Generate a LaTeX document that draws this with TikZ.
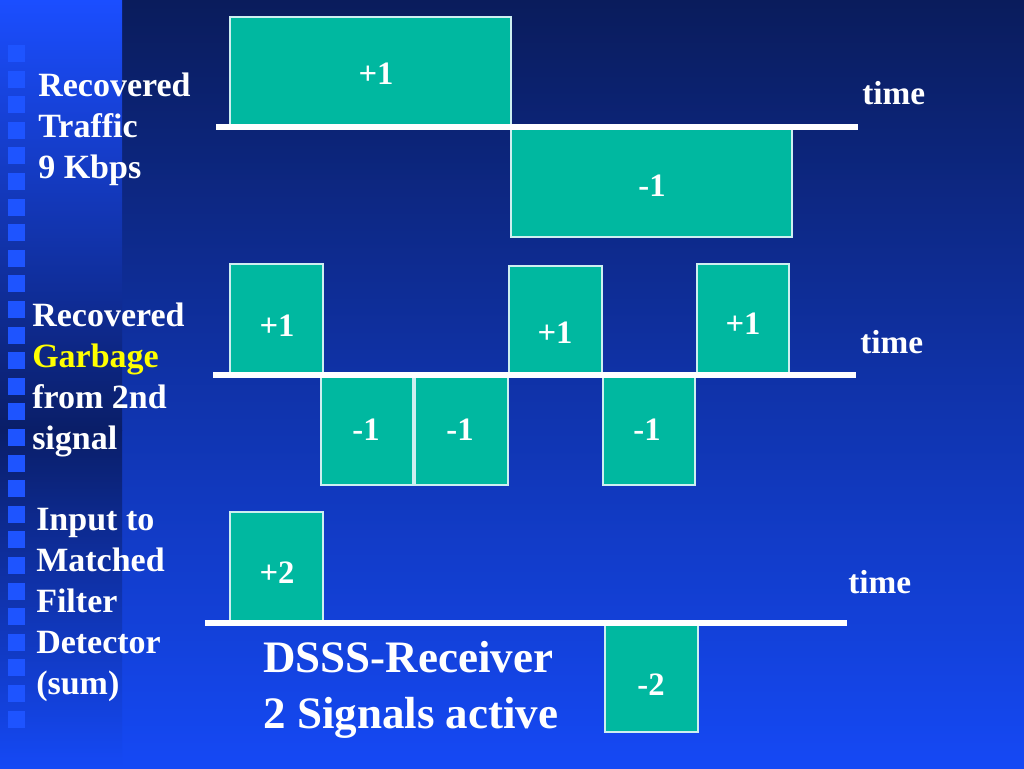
\documentclass[tikz,border=0pt]{standalone}
\usepackage{fontspec}
\setmainfont{Liberation Serif}

\definecolor{slidetop}{HTML}{0A1C5C}
\definecolor{slidemid}{HTML}{1036B8}
\definecolor{slidebot}{HTML}{1549F5}
\definecolor{stripetop}{HTML}{1B4EFF}
\definecolor{stripedark}{HTML}{0A1E68}
\definecolor{bullet}{HTML}{1E54FF}
\definecolor{chipfill}{HTML}{00B8A0}
\definecolor{chipline}{HTML}{CDEFF0}
\definecolor{hilite}{HTML}{FFFF00}

\tikzset{
  chip/.style={fill=chipfill, draw=chipline, line width=1.1pt},
  axis/.style={draw=white, line width=3.8pt},
  val/.style={text=white, inner sep=0pt, font=\bfseries\fontsize{24.5}{28}\selectfont},
  side/.style={text=white, inner sep=0pt, anchor=north west, align=left,
    font=\bfseries\fontsize{25.5}{30.75}\selectfont},
  timelabel/.style={text=white, inner sep=0pt, anchor=west,
    font=\bfseries\fontsize{25}{30}\selectfont},
  headline/.style={text=white, inner sep=0pt, anchor=north west, align=left,
    font=\bfseries\fontsize{33.75}{42}\selectfont}
}

\begin{document}
\begin{tikzpicture}[x=0.75pt,y=-0.75pt]
\useasboundingbox (0,0) rectangle (1024,768);
% background
\shade[top color=slidetop, middle color=slidemid, bottom color=slidebot] (0,0) rectangle (1024,768);
\shade[top color=stripetop, bottom color=stripedark] (0,0) rectangle (122,430);
\shade[top color=stripedark, bottom color=slidebot] (0,430) rectangle (122,768);
\foreach \k in {0,...,26}
  \fill[bullet] (8,{45+25.6*\k}) rectangle ++(17,17);

% recovered traffic
\draw[chip] (230,17) rectangle (511,127);
\draw[chip] (511,128) rectangle (792,237);
\draw[axis] (216,127) -- (858,127);
\node[val] (t1) at (376,74) {+1};
\node[val] (t2) at (652,186) {-1};
\node[timelabel] (time1) at (862,93) {time};
\node[side] (lab1) at (38,73) {Recovered\\Traffic\\9 Kbps};

% recovered garbage
\draw[chip] (230,264) rectangle (323,375);
\draw[chip] (321,376) rectangle (413,485);
\draw[chip] (415,376) rectangle (508,485);
\draw[chip] (509,266) rectangle (602,375);
\draw[chip] (603,376) rectangle (695,485);
\draw[chip] (697,264) rectangle (789,375);
\draw[axis] (213,375) -- (856,375);
\node[val] (g1) at (277,326) {+1};
\node[val] (g2) at (366,430) {-1};
\node[val] (g3) at (460,430) {-1};
\node[val] (g4) at (555,333) {+1};
\node[val] (g5) at (647,430) {-1};
\node[val] (g6) at (743,324) {+1};
\node[timelabel] (time2) at (860,342) {time};
\node[side] (lab2) at (32,303) {Recovered\\\textcolor{hilite}{Garbage}\\from 2nd\\signal};

% sum
\draw[chip] (230,512) rectangle (323,621);
\draw[chip] (605,624) rectangle (698,732);
\draw[axis] (205,623) -- (847,623);
\node[val] (s1) at (277,573) {+2};
\node[val] (s2) at (651,685) {-2};
\node[timelabel] (time3) at (848,582) {time};
\node[side] (lab3) at (36,508) {Input to\\Matched\\Filter\\Detector\\(sum)};
\node[headline] (head) at (263,641) {DSSS-Receiver\\2 Signals active};
\end{tikzpicture}
\end{document}
